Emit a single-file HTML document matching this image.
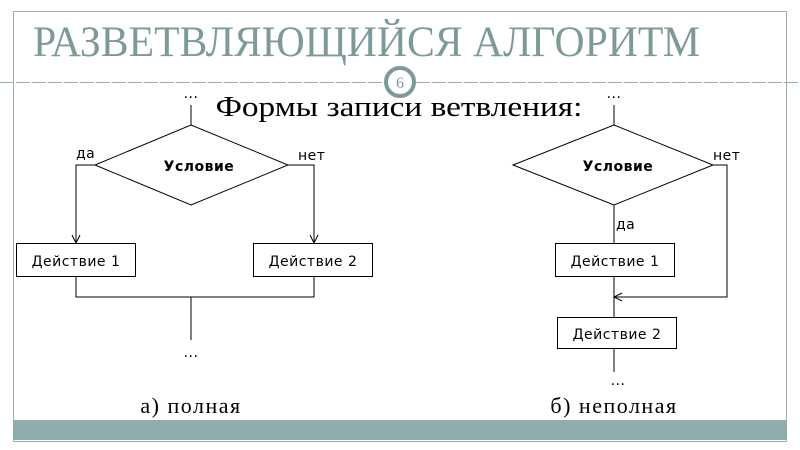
<!DOCTYPE html>
<html><head><meta charset="utf-8"><style>
body{margin:0;background:#fff}
svg{display:block}
text{font-family:"Liberation Serif",serif}
.s{font-family:"DejaVu Sans",sans-serif;font-size:14px;letter-spacing:0.5px}
</style></head><body>
<svg width="800" height="450" viewBox="0 0 800 450" xmlns="http://www.w3.org/2000/svg">
<defs><marker id="a" markerWidth="10" markerHeight="10" refX="9" refY="5" orient="auto" markerUnits="userSpaceOnUse"><path d="M1,1 L9,5 L1,9" fill="none" stroke="#000" stroke-width="1"/></marker></defs>
<rect x="13.5" y="11.5" width="773" height="430" fill="none" stroke="#9aaeae" stroke-width="1"/>
<text x="33" y="56" font-size="43" fill="#7d9a99" transform="translate(33 0) scale(0.97 1) translate(-33 0)">РАЗВЕТВЛЯЮЩИЙСЯ АЛГОРИТМ</text>
<line x1="0" y1="82.5" x2="800" y2="82.5" stroke="#9aaeae" stroke-dasharray="14 2"/>
<circle cx="400" cy="82" r="14" fill="#fff" stroke="#7d9a99" stroke-width="4"/>
<text x="400" y="88" font-size="16" fill="#7d9a99" text-anchor="middle">6</text>
<rect x="13" y="420" width="774" height="20" fill="#8fadad"/>
<text x="399" y="116" font-size="28" text-anchor="middle" transform="translate(399 0) scale(1.19 1) translate(-399 0)">Формы записи ветвления:</text>
<g stroke="#000" stroke-width="1" fill="none">
<line x1="191" y1="105" x2="191" y2="125"/>
<polygon points="191,125 288,165 191,205 95,165" fill="#fff"/>
<polyline points="95,165 76,165 76,243" marker-end="url(#a)"/>
<polyline points="288,165 314,165 314,243" marker-end="url(#a)"/>
<rect x="16.5" y="243.5" width="119" height="33"/>
<rect x="253.5" y="243.5" width="119" height="33"/>
<polyline points="76,277 76,297 314,297 314,277"/>
<line x1="191" y1="297" x2="191" y2="340"/>
<line x1="614" y1="105" x2="614" y2="125"/>
<polygon points="614,125 713,165 614,205 513,165" fill="#fff"/>
<line x1="614" y1="205" x2="614" y2="243"/>
<rect x="555.5" y="243.5" width="119" height="33"/>
<polyline points="713,165 727,165 727,297 614,297" marker-end="url(#a)"/>
<line x1="614" y1="277" x2="614" y2="317"/>
<rect x="557.5" y="317.5" width="119" height="31"/>
<line x1="614" y1="349" x2="614" y2="372"/>
</g>
<text x="191" y="98" text-anchor="middle" class="s">...</text>
<text x="199" y="171" text-anchor="middle" class="s" font-weight="bold">Условие</text>
<text x="76" y="158" class="s">да</text>
<text x="298" y="160" class="s">нет</text>
<text x="76" y="266" text-anchor="middle" class="s">Действие 1</text>
<text x="313" y="266" text-anchor="middle" class="s">Действие 2</text>
<text x="191" y="357" text-anchor="middle" class="s">...</text>
<text x="614" y="98" text-anchor="middle" class="s">...</text>
<text x="618" y="171" text-anchor="middle" class="s" font-weight="bold">Условие</text>
<text x="713" y="160" class="s">нет</text>
<text x="616" y="229" class="s">да</text>
<text x="615" y="266" text-anchor="middle" class="s">Действие 1</text>
<text x="617" y="339" text-anchor="middle" class="s">Действие  2</text>
<text x="618" y="385" text-anchor="middle" class="s">...</text>
<text x="191" y="413" font-size="22" letter-spacing="1.5" text-anchor="middle">а) полная</text>
<text x="614" y="413" font-size="22" letter-spacing="1.5" text-anchor="middle">б) неполная</text>
</svg>
</body></html>
